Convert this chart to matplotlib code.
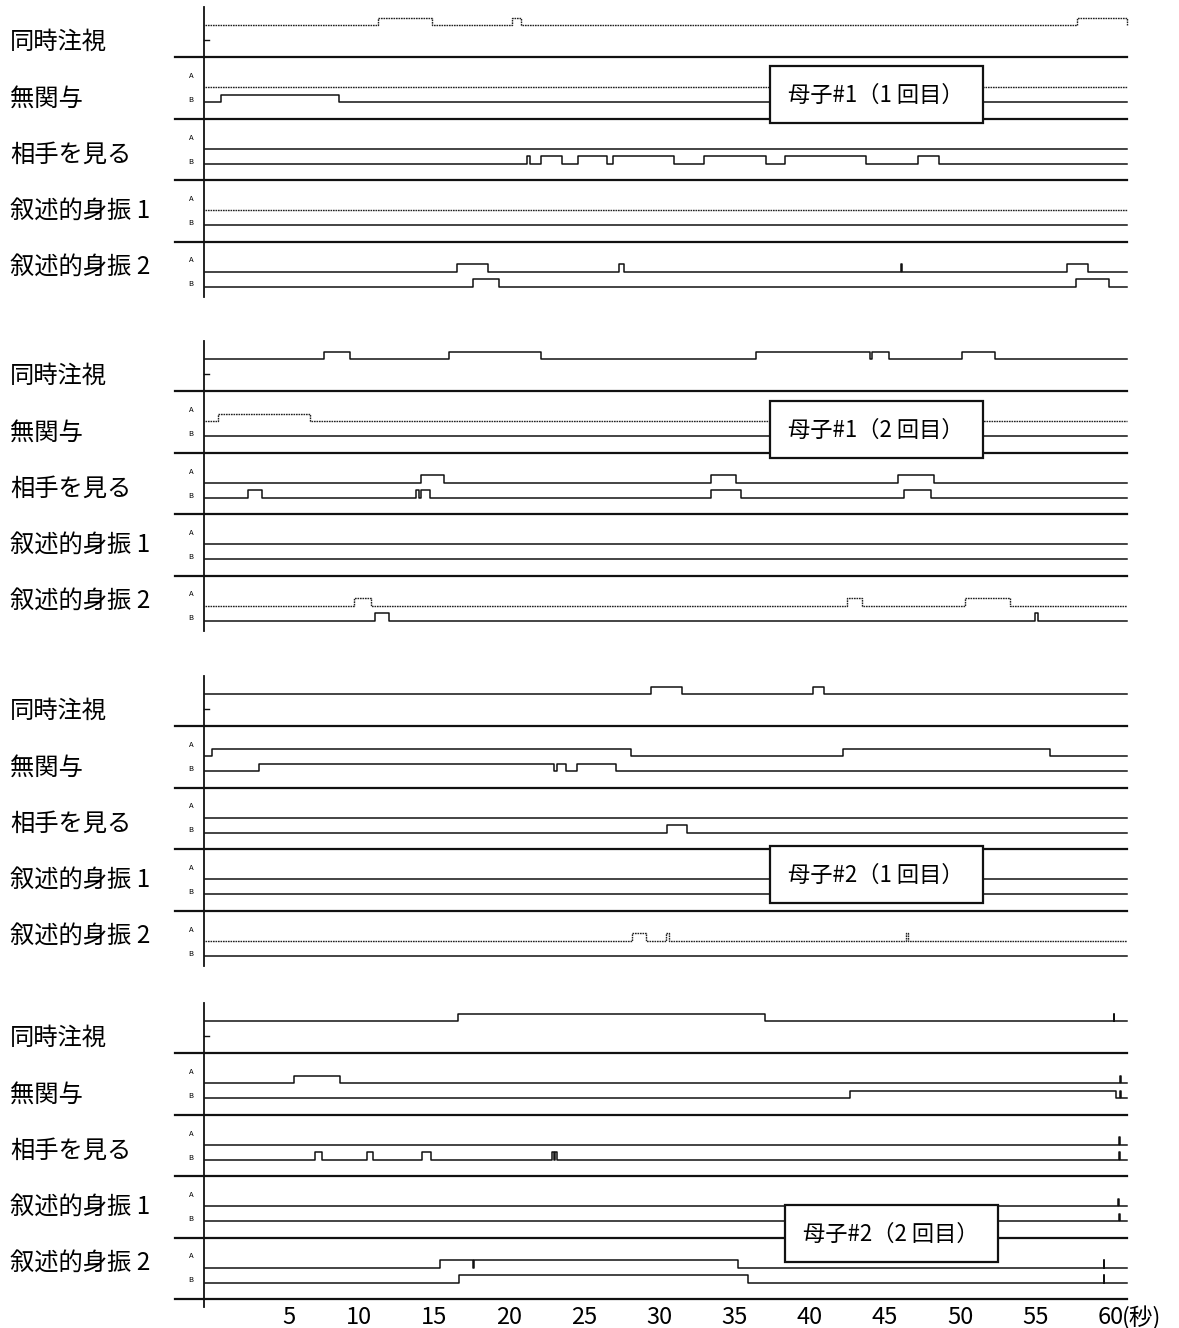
import matplotlib
matplotlib.use("Agg")
import matplotlib.pyplot as plt
from matplotlib.patches import Rectangle

plt.rcParams['font.family'] = ['Noto Sans CJK JP', 'DejaVu Sans']

row_labels = ["同時注視", "無関与", "相手を見る", "叙述的身振 1", "叙述的身振 2"]
panel_titles = ["母子#1（1 回目）", "母子#1（2 回目）", "母子#2（1 回目）", "母子#2（2 回目）"]
tick_secs = [5, 10, 15, 20, 25, 30, 35, 40, 45, 50, 55, 60]

# coded intervals in seconds (start, end) where the code is "on"
# panel 1 : 母子#1 (1回目)
p1_joint = [(11.25, 14.85), (20.2, 20.8), (57.8, 61.1)]
p1_noinv_a = []
p1_noinv_b = [(0.8, 8.67)]
p1_look_a = []
p1_look_b = [(21.2, 21.4), (22.1, 23.5), (24.6, 26.5), (26.9, 30.95), (32.98, 37.1),
             (38.33, 43.76), (47.2, 48.6)]
p1_gest1_a = []
p1_gest1_b = []
p1_gest2_a = [(16.5, 18.6), (27.3, 27.6), (46.08, 46.12), (57.1, 58.5)]
p1_gest2_b = [(17.6, 19.3), (57.75, 59.94)]

# panel 2 : 母子#1 (2回目)
p2_joint = [(7.67, 9.4), (16.0, 22.1), (36.4, 44.0), (44.15, 45.3), (50.1, 52.35)]
p2_noinv_a = [(0.6, 6.7)]
p2_noinv_b = []
p2_look_a = [(14.1, 15.64), (33.45, 35.1), (45.9, 48.3)]
p2_look_b = [(2.6, 3.5), (13.8, 13.95), (14.1, 14.7), (33.45, 35.4), (46.3, 48.1)]
p2_gest1_a = []
p2_gest1_b = []
p2_gest2_a = [(9.65, 10.8), (42.45, 43.5), (50.36, 53.3)]
p2_gest2_b = [(11.05, 12.0), (55.0, 55.2)]

# panel 3 : 母子#2 (1回目)
p3_joint = [(29.4, 31.5), (40.2, 40.95)]
p3_noinv_a = [(0.23, 28.1), (42.2, 55.96)]
p3_noinv_b = [(3.35, 22.95), (23.2, 23.8), (24.5, 27.1)]
p3_look_a = []
p3_look_b = [(30.5, 31.8)]
p3_gest1_a = []
p3_gest1_b = []
p3_gest2_a = [(28.14, 29.1), (30.45, 30.65), (46.4, 46.55)]
p3_gest2_b = []

# panel 4 : 母子#2 (2回目)
p4_joint = [(16.6, 37.0), (60.23, 60.27)]
p4_noinv_a = [(5.65, 8.7), (60.68, 60.72)]
p4_noinv_b = [(42.7, 60.4), (60.68, 60.72)]
p4_look_a = [(60.58, 60.62)]
p4_look_b = [(7.06, 7.5), (10.5, 10.9), (14.2, 14.75), (22.85, 23.0), (23.05, 23.15),
             (60.58, 60.62)]
p4_gest1_a = [(60.53, 60.57)]
p4_gest1_b = [(60.58, 60.62)]
p4_gest2_a = [(15.4, 17.57), (17.63, 35.2), (59.58, 59.62)]
p4_gest2_b = [(16.65, 35.86), (59.58, 59.62)]

panels = [
    (p1_joint, [(p1_noinv_a, p1_noinv_b), (p1_look_a, p1_look_b), (p1_gest1_a, p1_gest1_b), (p1_gest2_a, p1_gest2_b)]),
    (p2_joint, [(p2_noinv_a, p2_noinv_b), (p2_look_a, p2_look_b), (p2_gest1_a, p2_gest1_b), (p2_gest2_a, p2_gest2_b)]),
    (p3_joint, [(p3_noinv_a, p3_noinv_b), (p3_look_a, p3_look_b), (p3_gest1_a, p3_gest1_b), (p3_gest2_a, p3_gest2_b)]),
    (p4_joint, [(p4_noinv_a, p4_noinv_b), (p4_look_a, p4_look_b), (p4_gest1_a, p4_gest1_b), (p4_gest2_a, p4_gest2_b)]),
]
# which traces look dotted in the original print: (panel, row, who)
dotted = {(0, 0, "J"), (0, 0, "A"), (0, 2, "A"), (1, 0, "A"), (1, 3, "A"), (2, 3, "A")}

# layout (pixels of the 1179x1328 canvas)
W, H = 1179, 1328
X0, PX_PER_S = 209, 15.02
sep0s = [57, 391, 726, 1053]
box_px = [(770, 9), (770, 10), (770, 120), (785, 152)]
ROW_H, RAISE = 61.5, 7.5
T_START, T_END = -0.25, 61.1


def t_of(px):
    return (px - X0) / PX_PER_S


def step(intervals, base):
    xs, ys = [T_START], [base]
    for s, e in intervals:
        xs += [s, s, min(e, T_END), min(e, T_END)]
        ys += [base, base - RAISE, base - RAISE, base]
    xs.append(T_END)
    ys.append(ys[-1] if intervals and intervals[-1][1] >= T_END else base)
    return xs, ys


def trace(ax, intervals, base, is_dotted):
    xs, ys = step(intervals, base)
    if is_dotted:
        ax.plot(xs, ys, color="#222222", lw=1.0, ls=(0, (1.2, 0.6)))
    else:
        ax.plot(xs, ys, color="#111111", lw=1.1)


fig = plt.figure(figsize=(W / 100, H / 100), dpi=100)
ax = fig.add_axes([0, 0, 1, 1])
ax.set_xlim(t_of(0), t_of(W))
ax.set_ylim(H, 0)
ax.axis("off")

for p, (joint, rows) in enumerate(panels):
    s0 = sep0s[p]
    seps = [s0 + ROW_H * r for r in range(4)]
    bottom = seps[-1] + 55 if p < 3 else seps[-1] + 69
    ax.plot([t_of(204), t_of(204)], [s0 - 50, bottom], color="#111111", lw=1.3)
    ax.plot([t_of(204), t_of(209)], [s0 - 17, s0 - 17], color="#111111", lw=1.0)
    trace(ax, joint, s0 - 32, (p, 0, "J") in dotted)
    for sy in seps:
        ax.plot([t_of(175), T_END], [sy, sy], color="#111111", lw=1.6)
    if p == 3:
        ax.plot([t_of(175), T_END], [seps[-1] + ROW_H, seps[-1] + ROW_H], color="#111111", lw=1.6)
    for r, (a, b) in enumerate(rows):
        trace(ax, a, seps[r] + 30, (p, r, "A") in dotted)
        trace(ax, b, seps[r] + 45, (p, r, "B") in dotted)
        ax.text(t_of(191), seps[r] + 19, "A", fontsize=5.5, ha="center", va="center")
        ax.text(t_of(191), seps[r] + 43, "B", fontsize=5.5, ha="center", va="center")
    for i, lab in enumerate(row_labels):
        ax.text(t_of(10), s0 - 15 + 56.3 * i, lab, fontsize=17.5, ha="left", va="center")
    bx, by = box_px[p]
    ax.add_patch(Rectangle((t_of(bx), s0 + by), 213 / PX_PER_S, 57, facecolor="white",
                           edgecolor="#111111", lw=1.6, zorder=5))
    ax.text(t_of(bx + 106), s0 + by + 29, panel_titles[p], fontsize=16, ha="center",
            va="center", zorder=6)

for t in tick_secs:
    ax.text(t + (0.35 if t < 10 else 0), 1318, str(t), fontsize=17, ha="center", va="center")
ax.text(t_of(1122), 1318, "(秒)", fontsize=17, ha="left", va="center")

fig.savefig("out.png", dpi=100)
